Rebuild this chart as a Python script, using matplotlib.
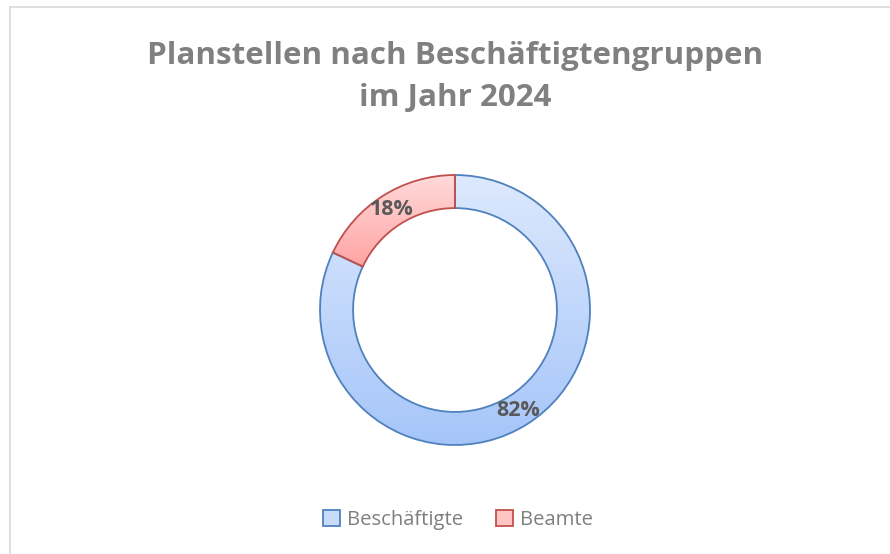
import numpy as np
import matplotlib.pyplot as plt
from matplotlib.colors import LinearSegmentedColormap
from matplotlib.patches import Patch
from matplotlib.lines import Line2D

# data
labels = ['Beschäftigte', 'Beamte']
shares = [82, 18]
title = 'Planstellen nach Beschäftigtengruppen\nim Jahr 2024'

# top / bottom gradient colours and edge colours per slice
grad = [('#DDE9FD', '#A5C5F9'), ('#FFDADA', '#FFA3A3')]
edges = ['#4F81BD', '#C0504D']

W, H = 890, 554
fig = plt.figure(figsize=(W / 100, H / 100), dpi=100)
fig.patch.set_facecolor('white')

# chart frame (only top and left visible)
fig.add_artist(Line2D([9.5 / W, 9.5 / W], [0, 1 - 7 / H], color='#D9D9D9', lw=1.2))
fig.add_artist(Line2D([9.5 / W, 1], [1 - 7 / H, 1 - 7 / H], color='#D9D9D9', lw=1.2))

cx, cy, r = 455, 310, 135
pad = 1.1
ax = fig.add_axes([(cx - r * pad) / W, 1 - (cy + r * pad) / H, 2 * r * pad / W, 2 * r * pad / H])
ax.set_xlim(-pad, pad)
ax.set_ylim(-pad, pad)
ax.axis('off')

width = 0.245
wedges, _ = ax.pie(shares, startangle=90, counterclock=False, radius=1,
                   wedgeprops=dict(width=width, linewidth=1.3),
                   colors=['none', 'none'])
for w, (c0, c1), ec in zip(wedges, grad, edges):
    w.set_edgecolor(ec)
    w.set_zorder(3)
    bb = w.get_path().get_extents(w.get_transform() - ax.transData)
    cmap = LinearSegmentedColormap.from_list('g', [c1, c0])
    im = ax.imshow(np.linspace(0, 1, 256).reshape(-1, 1), cmap=cmap, origin='lower',
                   extent=[bb.x0, bb.x1, bb.y0, bb.y1], aspect='auto', zorder=2)
    im.set_clip_path(w)
ax.set_xlim(-pad, pad)
ax.set_ylim(-pad, pad)

# percentage labels at ring middle
mid = 1 - width / 2
start = 90
for s in shares:
    ang = np.deg2rad(start - s / 100 * 360 / 2)
    ax.text(mid * np.cos(ang), mid * np.sin(ang), f'{s}%', ha='center', va='center',
            fontsize=15.5, fontweight='bold', color='#595959', family='Open Sans', zorder=4)
    start -= s / 100 * 360

fig.text(455 / W, 1 - 77 / H, title, ha='center', va='center', fontsize=22.6,
         fontweight='bold', color='#808080', family='Open Sans', linespacing=1.55)

handles = [Patch(facecolor=c0, edgecolor=ec, lw=1.3) for (c0, c1), ec in
           zip([('#C9DBFB', ''), ('#FFC4C4', '')], edges)]
fig.legend(handles, labels, loc='center', bbox_to_anchor=(458 / W, 1 - 520 / H), ncol=2,
           frameon=False, handlelength=0.85, handleheight=0.85, handletextpad=0.35,
           columnspacing=1.6, prop=dict(family='Open Sans', size=14.6), labelcolor='#7F7F7F')

fig.savefig('out.png', dpi=100)
